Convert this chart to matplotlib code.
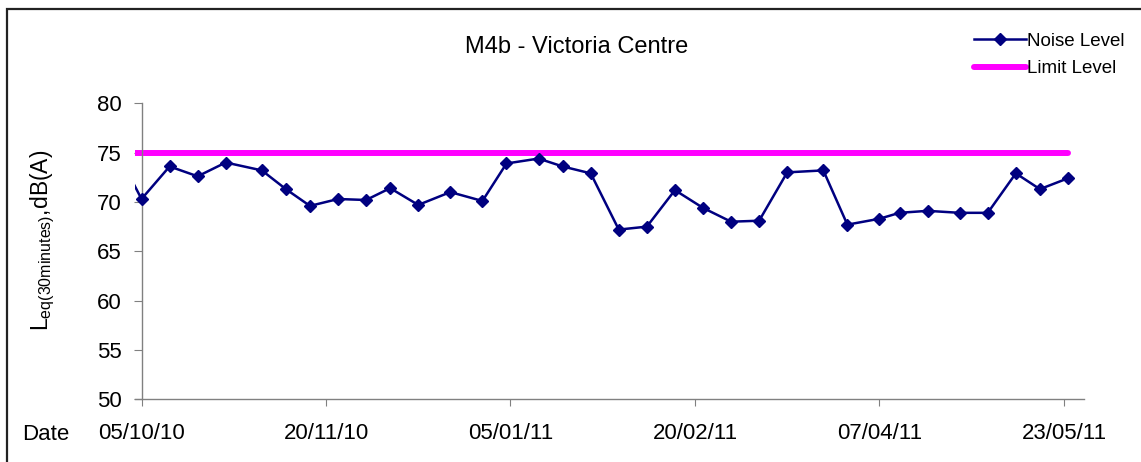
import datetime as dt
import matplotlib
matplotlib.use('Agg')
import matplotlib.pyplot as plt
import matplotlib.dates as mdates
from matplotlib.patches import Rectangle

plt.rcParams['font.family'] = ['Liberation Sans', 'DejaVu Sans']
plt.rcParams['mathtext.fontset'] = 'custom'
plt.rcParams['mathtext.rm'] = 'Liberation Sans'

# measurement dates (first one sits just off the left of the axis)
dates = ['28/09/10', '05/10/10', '12/10/10', '19/10/10', '26/10/10', '04/11/10', '10/11/10',
         '16/11/10', '23/11/10', '30/11/10', '06/12/10', '13/12/10', '21/12/10',
         '29/12/10', '04/01/11', '12/01/11', '18/01/11', '25/01/11', '01/02/11',
         '08/02/11', '15/02/11', '22/02/11', '01/03/11', '08/03/11', '15/03/11',
         '24/03/11', '30/03/11', '07/04/11', '12/04/11', '19/04/11', '27/04/11',
         '04/05/11', '11/05/11', '17/05/11', '24/05/11']
noise_level = [75.8, 70.3, 73.6, 72.6, 74.0, 73.2, 71.3, 69.6, 70.3, 70.2, 71.4, 69.7, 71.0,
               70.1, 73.9, 74.4, 73.6, 72.9, 67.2, 67.5, 71.2, 69.4, 68.0, 68.1,
               73.0, 73.2, 67.7, 68.3, 68.9, 69.1, 68.9, 68.9, 72.9, 71.3, 72.4]
limit_level = [75] * len(dates)

tick_dates = ['05/10/10', '20/11/10', '05/01/11', '20/02/11', '07/04/11', '23/05/11']
y_ticks = [50, 55, 60, 65, 70, 75, 80]

to_d = lambda s: dt.datetime.strptime(s, '%d/%m/%y')
d = [to_d(s) for s in dates]
ticks = [to_d(s) for s in tick_dates]

W, H = 1141, 462
fig = plt.figure(figsize=(W / 100, H / 100), dpi=100)

x_left, x_right = 134.7, 1084
ax = fig.add_axes([x_left / W, 1 - 399.3 / H, (x_right - x_left) / W, (399.3 - 103.3) / H])

ax.plot(d, limit_level, color='#FF00FF', lw=4.3, solid_capstyle='round', label='Limit Level', zorder=2)
ax.plot(d, noise_level, color='#000080', lw=1.8, marker='D', ms=6.3, label='Noise Level', zorder=3)

start = ticks[0]
ax.set_xlim(start - dt.timedelta(days=1.7), start + dt.timedelta(days=235))
ax.set_ylim(50, 80)
ax.set_xticks(ticks)
ax.xaxis.set_major_formatter(mdates.DateFormatter('%d/%m/%y'))
ax.set_yticks(y_ticks)

ax.spines['top'].set_visible(False)
ax.spines['right'].set_visible(False)
ax.spines['left'].set_position(('data', mdates.date2num(start)))
for s in ('left', 'bottom'):
    ax.spines[s].set_color('#808080')
    ax.spines[s].set_linewidth(1.0)
ax.tick_params(axis='both', colors='#808080', labelcolor='black', labelsize=16, direction='out')
ax.tick_params(axis='y', length=6, pad=8)
ax.tick_params(axis='x', length=5, pad=12)

ax.set_ylabel(r'L$_{\mathrm{eq(30minutes)}}$,dB(A)', fontsize=16.5)
ax.yaxis.set_label_coords(57 / W, 0.48, transform=fig.transFigure)

fig.text(22 / W, 1 - 434 / H, 'Date', fontsize=16, ha='left', va='center')
fig.text(577 / W, 1 - 47 / H, 'M4b - Victoria Centre', fontsize=17, ha='center', va='center')

handles, labels = ax.get_legend_handles_labels()
ax.legend(handles[::-1], labels[::-1], loc='upper left', bbox_to_anchor=(966 / W, 1 - 25 / H),
          bbox_transform=fig.transFigure, frameon=False, fontsize=13.5,
          handlelength=2.8, handletextpad=0.05, labelspacing=0.55, borderaxespad=0)

# chart frame, running off the right and bottom of the picture
fig.add_artist(Rectangle((7 / W, -0.1), 1.2, 1.1 - 9 / H, transform=fig.transFigure,
                         fill=False, edgecolor='#222222', lw=1.6, clip_on=False))

fig.savefig('out.png', dpi=100)
